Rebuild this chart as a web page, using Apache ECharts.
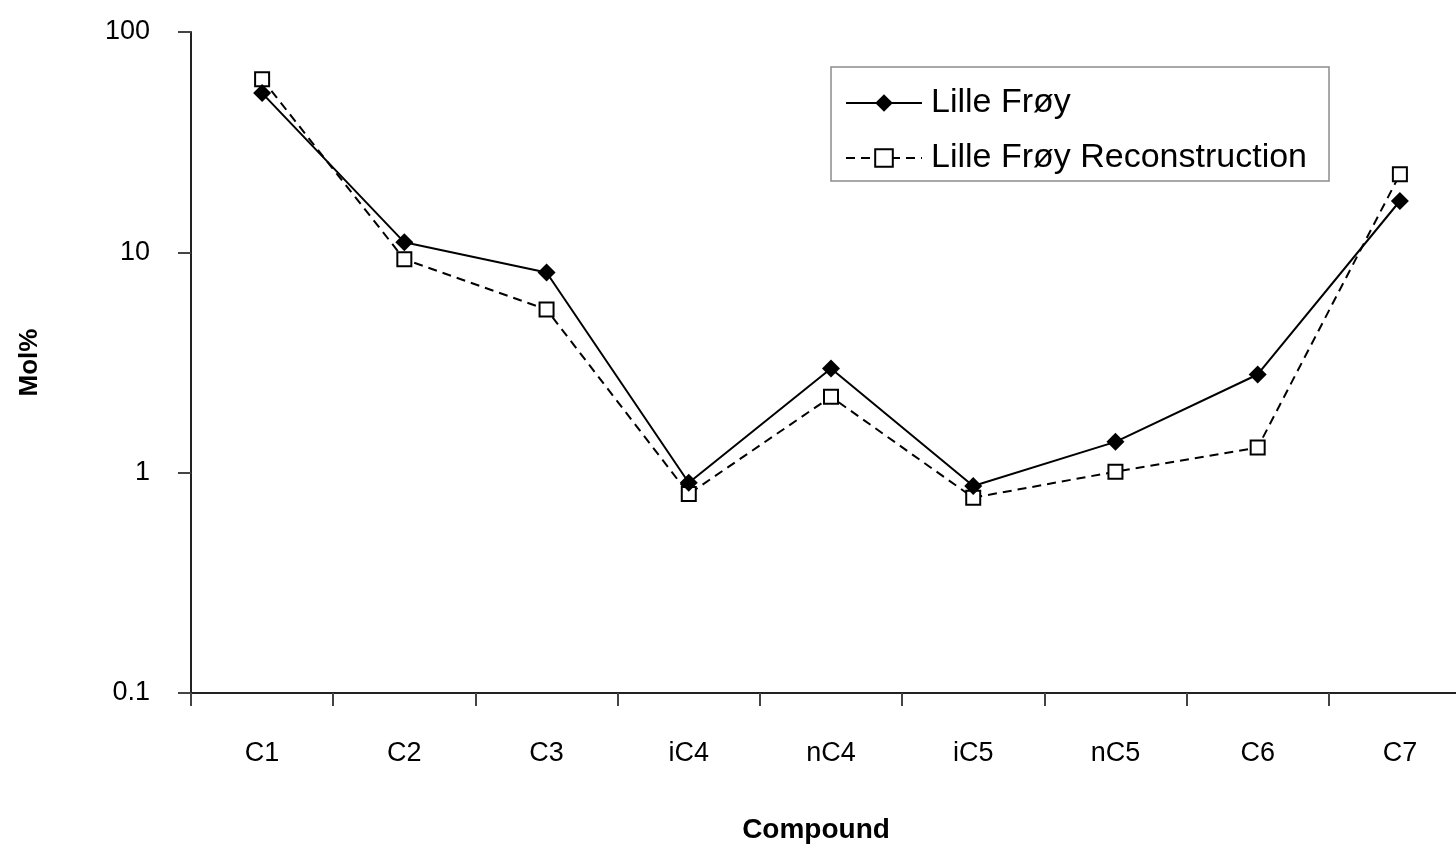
<!DOCTYPE html>
<html>
<head>
<meta charset="utf-8">
<script src="https://cdn.jsdelivr.net/npm/echarts@6/dist/echarts.min.js"></script>
<style>html,body{margin:0;padding:0;background:#fff}#c{width:1456px;height:846px}</style>
</head>
<body>
<div id="c"></div>
<script>
const categories = ['C1','C2','C3','iC4','nC4','iC5','nC5','C6','C7'];
const lilleFroy = [52.8, 11.1, 8.1, 0.90, 2.97, 0.87, 1.38, 2.79, 17.1];
const reconstruction = [61.1, 9.3, 5.5, 0.80, 2.21, 0.77, 1.01, 1.30, 22.6];
const yTicks = [0.1, 1, 10, 100];

const FONT = '"Liberation Sans", Arial, sans-serif';
const chart = echarts.init(document.getElementById('c'), null, {renderer: 'canvas'});
chart.setOption({
  animation: false,
  backgroundColor: '#fff',
  textStyle: {fontFamily: FONT, color: '#000'},
  grid: {left: 191, top: 32, height: 661, width: 1280, containLabel: false, outerBoundsMode: 'none'},
  legend: {
    orient: 'vertical',
    left: 831, top: 67,
    padding: [16, 22, 3, 14],
    itemGap: 15,
    itemWidth: 76, itemHeight: 22,
    borderColor: '#8c8c8c', borderWidth: 1.5,
    textStyle: {fontSize: 34, fontFamily: FONT, color: '#000', lineHeight: 40, padding: [0,0,0,4]},
    data: ['Lille Frøy', 'Lille Frøy Reconstruction']
  },
  xAxis: {
    type: 'category',
    data: categories,
    boundaryGap: true,
    name: 'Compound',
    nameLocation: 'middle',
    nameGap: 123,
    nameTextStyle: {fontSize: 28, fontWeight: 'bold', fontFamily: FONT, color: '#000', padding: [0, 30, 0, 0]},
    axisLine: {lineStyle: {color: '#222', width: 2}},
    axisTick: {show: true, length: 13, alignWithLabel: false, lineStyle: {color: '#444', width: 2}},
    axisLabel: {fontSize: 27, fontFamily: FONT, color: '#000', margin: 47},
    splitLine: {show: false}
  },
  yAxis: {
    type: 'log',
    logBase: 10,
    min: yTicks[0], max: yTicks[yTicks.length-1],
    name: 'Mol%',
    nameLocation: 'middle',
    nameRotate: 90,
    nameGap: 148,
    nameTextStyle: {fontSize: 26, fontWeight: 'bold', fontFamily: FONT, color: '#000'},
    axisLine: {show: true, lineStyle: {color: '#222', width: 2}},
    axisTick: {show: true, length: 13, lineStyle: {color: '#444', width: 2}},
    axisLabel: {fontSize: 27, fontFamily: FONT, color: '#000', margin: 41, padding: [0,0,20,0],
      formatter: v => String(+v.toPrecision(3))},
    splitLine: {show: false}
  },
  series: [
    {
      name: 'Lille Frøy',
      type: 'line',
      data: lilleFroy,
      symbol: 'diamond',
      symbolSize: 18,
      itemStyle: {color: '#000'},
      lineStyle: {color: '#000', width: 2},
      z: 3
    },
    {
      name: 'Lille Frøy Reconstruction',
      type: 'line',
      data: reconstruction,
      symbol: 'rect',
      symbolSize: 14,
      itemStyle: {color: '#fff', borderColor: '#000', borderWidth: 2},
      lineStyle: {color: '#000', width: 2, type: [9, 6]},
      z: 2
    }
  ]
});
</script>
</body>
</html>
